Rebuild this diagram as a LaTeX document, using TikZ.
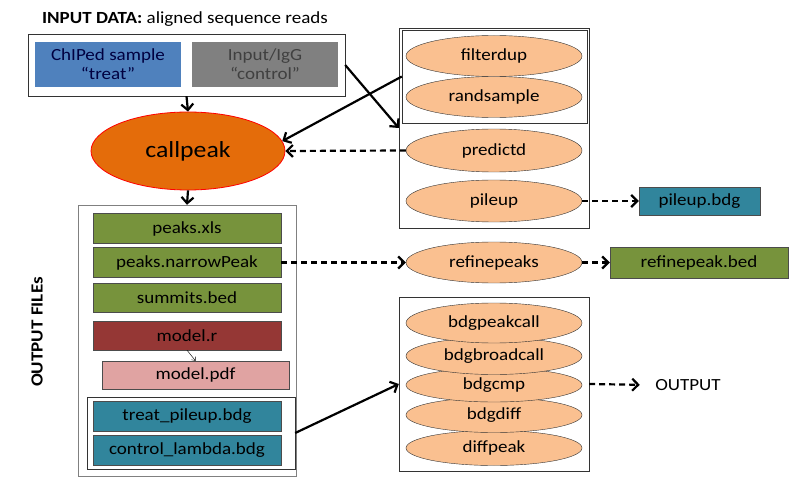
\documentclass[tikz,border=0pt]{standalone}
\usepackage{fontspec}
\setmainfont{Carlito}[FakeStretch=1.12]
\usetikzlibrary{arrows.meta,shapes.geometric}
\definecolor{chipblue}{HTML}{4F81BD}
\definecolor{inputgray}{HTML}{808080}
\definecolor{callorange}{HTML}{E46C0A}
\definecolor{toolorange}{HTML}{FAC090}
\definecolor{filegreen}{HTML}{77933C}
\definecolor{modelred}{HTML}{953735}
\definecolor{modelpink}{HTML}{E0A3A2}
\definecolor{bdgteal}{HTML}{31859C}

\begin{document}
\begin{tikzpicture}[x=1pt,y=-1pt,
  every node/.style={font=\fontsize{17}{19}\selectfont},
  frame/.style={draw=black!80,rectangle,inner sep=0pt},
  file/.style={draw=black!70,rectangle,minimum width=188pt,minimum height=30pt,inner sep=0pt},
  tool/.style={draw=black!80,ellipse,fill=toolorange,minimum width=176pt,minimum height=41pt,inner sep=0pt},
  flow/.style={line width=2.2pt,-{Straight Barb[length=6pt,width=12pt]}},
  dflow/.style={flow,dash pattern=on 6pt off 4pt}]
\useasboundingbox (0,0) rectangle (807,484);

\node[inner sep=0pt] (intitle) at (185,19) {\textbf{INPUT DATA:} aligned sequence reads};
\node[frame,minimum width=317pt,minimum height=62pt] (inbox) at (186.5,65) {};
\node[fill=chipblue,minimum width=146pt,minimum height=45pt,align=center,text=black!75!blue,inner sep=0pt] (treat) at (108,64.5) {ChIPed sample\\“treat”};
\node[fill=inputgray,minimum width=146pt,minimum height=45pt,align=center,text=black!75,inner sep=0pt] (control) at (265,64.5) {Input/IgG\\“control”};

\node[ellipse,draw=red,thick,fill=callorange,minimum width=194pt,minimum height=78pt,font=\fontsize{23}{25}\selectfont] (callpeak) at (188,151) {callpeak};

% output files
\node[frame,draw=black!50,minimum width=218pt,minimum height=271pt] (outbox) at (187,340.5) {};
\node[rotate=90,font=\bfseries\fontsize{17}{19}\selectfont] (outlabel) at (37,332) {OUTPUT FILEs};
\node[file,fill=filegreen] (xls) at (187,228.5) {peaks.xls};
\node[file,fill=filegreen] (narrow) at (187,262.5) {peaks.narrowPeak};
\node[file,fill=filegreen,minimum height=29pt] (summits) at (187,297.5) {summits.bed};
\node[file,fill=modelred,minimum height=29pt] (modelr) at (187,335.5) {model.r};
\node[file,fill=modelpink,minimum width=187pt,minimum height=28pt] (modelpdf) at (195.5,375) {model.pdf};
\node[frame,minimum width=208pt,minimum height=72pt] (bdgbox) at (191,433) {};
\node[file,fill=bdgteal] (treatbdg) at (187,416) {treat\_pileup.bdg};
\node[file,fill=bdgteal] (controlbdg) at (187,450) {control\_lambda.bdg};

% tools
\node[frame,minimum width=190pt,minimum height=200pt] (toolbox) at (494,128) {};
\node[frame,minimum width=185pt,minimum height=93pt] (dupbox) at (494.5,76.5) {};
\node[tool] (randsample) at (494,97) {randsample};
\node[tool] (filterdup) at (494,56) {filterdup};
\node[tool,minimum height=43pt] (predictd) at (494,150.5) {predictd};
\node[tool,minimum height=42pt] (pileup) at (494,201) {pileup};
\node[file,fill=bdgteal,minimum width=121pt,minimum height=28pt] (pileupbdg) at (699.5,201) {pileup.bdg};
\node[tool] (refinepeaks) at (494,262.5) {refinepeaks};
\node[file,fill=filegreen,minimum width=178pt,minimum height=31pt] (refinebed) at (699,262.5) {refinepeak.bed};

\node[frame,minimum width=190pt,minimum height=174pt] (bdgtools) at (494,384) {};
\node[tool,minimum height=35pt] (diffpeak) at (494,448) {diffpeak};
\node[tool,minimum height=35pt] (bdgdiff) at (494,415) {bdgdiff};
\node[tool,minimum height=34pt] (bdgcmp) at (494,385) {bdgcmp};
\node[tool,minimum height=37pt] (bdgbroadcall) at (494,356) {bdgbroadcall};
\node[tool,minimum height=40pt] (bdgpeakcall) at (494,323) {bdgpeakcall};
\node (output) at (688,385) {OUTPUT};

\draw[flow] (inbox.south) -- (callpeak.north);
\draw[flow] (callpeak.south) -- (outbox.north);
\draw[flow] (inbox.east) -- (toolbox.west);
\draw[flow] (dupbox.west) -- (callpeak.6);
\draw[dflow] (predictd.west) -- (callpeak.east);
\draw[dflow] (pileup.east) -- (pileupbdg.west);
\draw[dflow] (narrow.east) -- (refinepeaks.west);
\draw[dflow] (refinepeaks.east) -- (refinebed.west);
\draw[-{Straight Barb[length=3pt,width=5pt]},thin] (modelr.south) -- (modelpdf.north);
\draw[flow] (bdgbox.east) -- (bdgtools.west);
\draw[dflow,shorten >=12pt] (bdgtools.east) -- (output.west);
\end{tikzpicture}
\end{document}
